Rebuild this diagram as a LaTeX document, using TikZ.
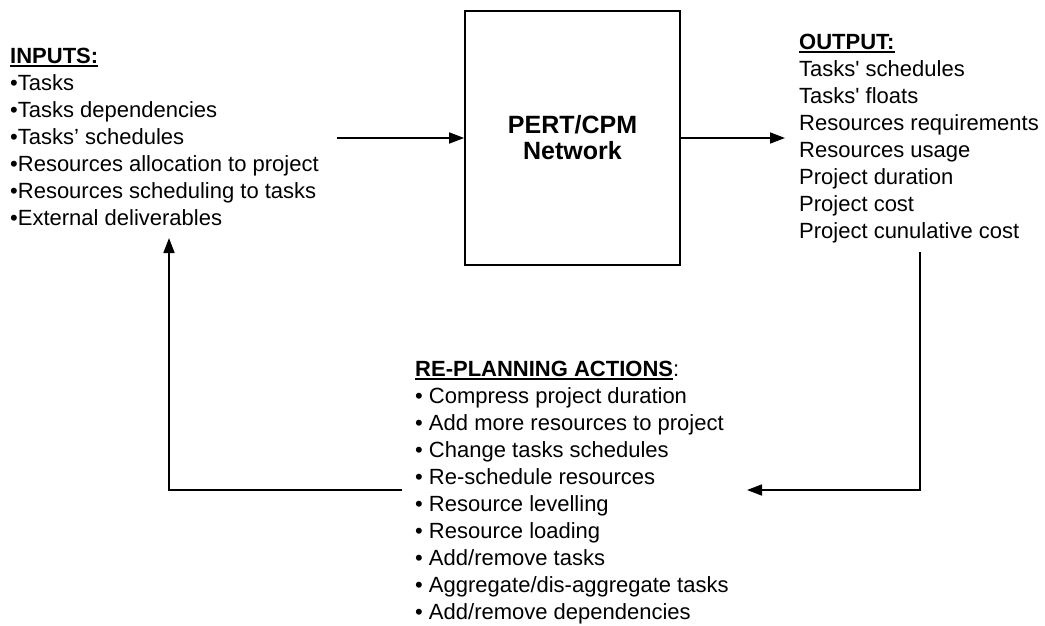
\documentclass[tikz,border=0pt]{standalone}
\usepackage{fontspec}
\setmainfont{Liberation Sans}
\usetikzlibrary{arrows.meta}
% bold-ish underline drawn as a rule under the text box
\newcommand\ulbar[1]{\setbox0\hbox{#1}\rlap{\rule[-3.5pt]{\wd0}{1.8pt}}\box0}
\begin{document}
\begin{tikzpicture}[x=1pt,y=-1pt,
  txt/.style={anchor=base west,inner sep=0pt,font=\fontsize{22}{27}\selectfont},
  link/.style={line width=1.7pt},
  arr/.style={link,-{Triangle[length=15pt,width=11pt]}}]
\useasboundingbox (0,0) rectangle (1045,625);

% central network box
\node[draw,line width=1.7pt,minimum width=215pt,minimum height=254pt,inner sep=0pt,
      align=center,font=\fontsize{25}{26}\selectfont\bfseries] (net) at (572.5,138)
      {PERT/CPM\\Network};

% inputs
\node[txt] (inh) at (10,63) {\ulbar{\textbf{INPUTS:}}};
\foreach \t [count=\i] in {Tasks,Tasks dependencies,Tasks’ schedules,
    Resources allocation to project,Resources scheduling to tasks,External deliverables}
  \node[txt] (in\i) at (10,63+27*\i) {•\t};

% outputs
\node[txt] (outh) at (799,49) {\ulbar{\textbf{OUTPUT:}}};
\foreach \t [count=\i] in {Tasks\textquotesingle\ schedules,Tasks\textquotesingle\ floats,
    Resources requirements,Resources usage,Project duration,Project cost,Project cunulative cost}
  \node[txt] (out\i) at (799,49+27*\i) {\t};

% re-planning actions
\node[txt] (rph) at (415,376) {\ulbar{\textbf{RE-PLANNING ACTIONS}}:};
\foreach \t [count=\i] in {Compress project duration,Add more resources to project,
    Change tasks schedules,Re-schedule resources,Resource levelling,Resource loading,
    Add/remove tasks,Aggregate/dis-aggregate tasks,Add/remove dependencies}
  \node[txt] (rp\i) at (415,376+27*\i) {• \t};

% connectors
\coordinate (inStart) at (337,138);
\coordinate (outEnd) at (785,138);
\draw[arr] (inStart) -- (net.west);
\draw[arr] (net.east) -- (outEnd);

\coordinate (fbTop) at (920,252);
\coordinate (fbCorner) at (920,490);
\coordinate (fbEnd) at (747,490);
\draw[arr] (fbTop) -- (fbCorner) -- (fbEnd);

\coordinate (lpStart) at (402,490);
\coordinate (lpCorner) at (169,490);
\coordinate (lpEnd) at (169,238);
\draw[arr] (lpStart) -- (lpCorner) -- (lpEnd);
\end{tikzpicture}
\end{document}
